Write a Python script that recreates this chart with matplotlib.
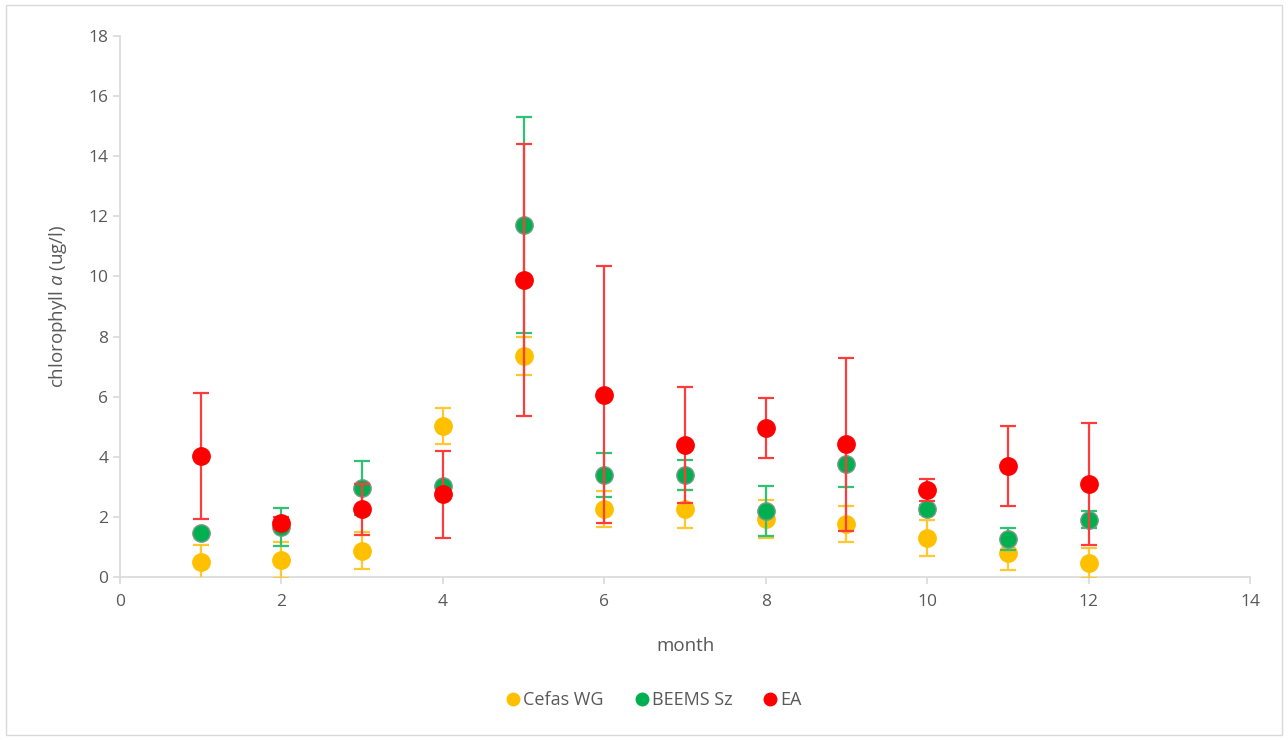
import matplotlib
matplotlib.use("Agg")
import matplotlib.pyplot as plt
from matplotlib.patches import Rectangle
from matplotlib.lines import Line2D

months = [1, 2, 3, 4, 5, 6, 7, 8, 9, 10, 11, 12]

cefas = [0.50, 0.56, 0.87, 5.03, 7.35, 2.26, 2.26, 1.93, 1.76, 1.30, 0.80, 0.47]
cefas_err = [0.56, 0.60, 0.62, 0.60, 0.62, 0.60, 0.63, 0.63, 0.60, 0.60, 0.57, 0.50]

beems = [1.45, 1.67, 2.95, 3.03, 11.71, 3.39, 3.39, 2.20, 3.76, 2.26, 1.26, 1.90]
beems_err = [0.0, 0.63, 0.90, 0.0, 3.60, 0.72, 0.50, 0.82, 0.76, 0.15, 0.36, 0.28]

ea = [4.02, 1.80, 2.25, 2.75, 9.88, 6.06, 4.39, 4.96, 4.42, 2.90, 3.69, 3.09]
ea_err = [2.10, 0.20, 0.85, 1.45, 4.54, 4.28, 1.93, 1.01, 2.88, 0.37, 1.33, 2.02]

series_names = ["Cefas WG", "BEEMS Sz", "EA"]
series_colors = ["#FFC000", "#00B050", "#FF0000"]
err_colors = ["#FFC82E", "#2EC272", "#FF3B3B"]

plt.rcParams['font.family'] = ['Open Sans', 'DejaVu Sans']
plt.rcParams['mathtext.fontset'] = 'custom'
plt.rcParams['mathtext.it'] = 'Open Sans:italic'
plt.rcParams['mathtext.rm'] = 'Open Sans'

fig = plt.figure(figsize=(12.88, 7.40), dpi=100)
ax = fig.add_axes([0.0932, 0.2203, 0.8773, 0.7311])

fig.patches.append(Rectangle((0.005, 0.007), 0.99, 0.986, transform=fig.transFigure,
                             fill=False, edgecolor="#D9D9D9", linewidth=1.0))

data = [(cefas, cefas_err), (beems, beems_err), (ea, ea_err)]
for i, ((vals, errs), name) in enumerate(zip(data, series_names)):
    edge = "#7A9A86" if i == 1 else series_colors[i]
    ax.errorbar(months, vals, yerr=errs, fmt='o', color=series_colors[i],
                ecolor=err_colors[i], elinewidth=1.6, capsize=6, capthick=1.6,
                markersize=12.5, markeredgecolor=edge,
                label=name, zorder=3 + i)

ax.set_xlim(0, 14)
ax.set_ylim(0, 18)
ax.set_xticks(range(0, 15, 2))
ax.set_yticks(range(0, 19, 2))

for s in ["top", "right"]:
    ax.spines[s].set_visible(False)
for s in ["left", "bottom"]:
    ax.spines[s].set_color("#D9D9D9")
    ax.spines[s].set_linewidth(1.2)
ax.tick_params(axis='both', colors="#D9D9D9", labelcolor="#595959", labelsize=12.5,
               length=5, width=1.2, direction='out')
ax.tick_params(axis='x', pad=7)

ax.set_xlabel("month", fontsize=13.5, color="#595959", labelpad=20)
ax.set_ylabel("chlorophyll $a$ (ug/l)", fontsize=13.5, color="#595959", labelpad=14)

hs = [Line2D([], [], marker='o', linestyle='none', color=c, markersize=9,
             markeredgecolor=c) for c in series_colors]
leg = fig.legend(hs, series_names, loc='center', bbox_to_anchor=(0.507, 0.054), ncol=3,
                 frameon=False, fontsize=13, handletextpad=0.05, columnspacing=1.6,
                 handlelength=1.0)
for t in leg.get_texts():
    t.set_color("#595959")

fig.savefig("out.png", dpi=100)
